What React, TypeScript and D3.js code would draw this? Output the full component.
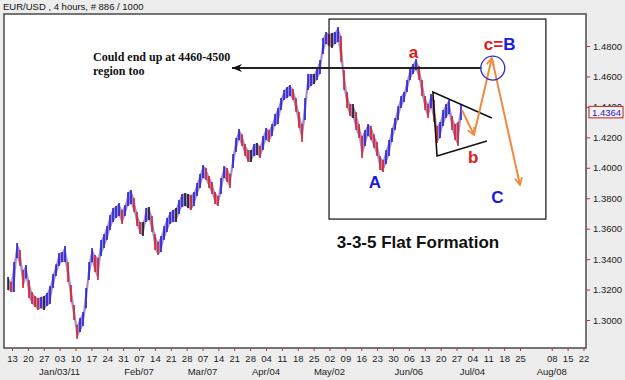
import React, { useEffect, useRef } from "react";
import * as d3 from "d3";

// EUR/USD 4h, sampled roughly once a day (high / low)
const barHigh = [
  1.3282, 1.3249, 1.3381, 1.3506, 1.346, 1.3328, 1.3361, 1.3262, 1.3184, 1.3157,
  1.3144, 1.3151, 1.3157, 1.3177, 1.3223, 1.3302, 1.3367, 1.344, 1.3447, 1.3486,
  1.3381, 1.323, 1.3098, 1.2967, 1.3013, 1.3052, 1.321, 1.3381, 1.3473, 1.3427,
  1.3407, 1.3525, 1.3565, 1.3617, 1.369, 1.3736, 1.3749, 1.3769, 1.3722, 1.3755,
  1.3841, 1.3854, 1.3801, 1.3709, 1.3643, 1.3643, 1.3736, 1.3742, 1.3683, 1.3565,
  1.3512, 1.3552, 1.3617, 1.367, 1.3709, 1.3722, 1.3736, 1.3788, 1.3828, 1.3834,
  1.3828, 1.3821, 1.3841, 1.39, 1.3959, 1.4018, 1.3998, 1.3946, 1.3906, 1.3841,
  1.3814, 1.3933, 1.4011, 1.3998, 1.3959, 1.409, 1.4195, 1.4254, 1.4221, 1.4156,
  1.4117, 1.4117, 1.4156, 1.4162, 1.4143, 1.4208, 1.4261, 1.4248, 1.4287, 1.4353,
  1.4392, 1.4458, 1.4511, 1.453, 1.4543, 1.4517, 1.4458, 1.4366, 1.4287, 1.4458,
  1.4616, 1.4616, 1.4616, 1.4655, 1.4708, 1.4852, 1.4892, 1.4879, 1.4885, 1.4892,
  1.4925, 1.4866, 1.4642, 1.4498, 1.4419, 1.4419, 1.4366, 1.4287, 1.4208, 1.4248,
  1.4287, 1.4274, 1.4221, 1.4169, 1.4077, 1.4051, 1.4117, 1.4182, 1.4261, 1.4327,
  1.4405, 1.4471, 1.4498, 1.4576, 1.4655, 1.4681, 1.4714, 1.4668, 1.4576, 1.4471,
  1.4419, 1.4484, 1.4445, 1.4274, 1.43, 1.4379, 1.4419, 1.4445, 1.434, 1.4287,
  1.43, 1.4419,
];
const barLow = [
  1.3197, 1.3184, 1.3184, 1.3407, 1.3354, 1.321, 1.3275, 1.3144, 1.3105, 1.3085,
  1.3065, 1.3078, 1.3065, 1.3092, 1.3105, 1.321, 1.3289, 1.3354, 1.3381, 1.3381,
  1.3249, 1.3118, 1.3, 1.2875, 1.2921, 1.296, 1.3078, 1.3262, 1.3381, 1.3315,
  1.3262, 1.342, 1.3473, 1.3525, 1.3591, 1.3644, 1.367, 1.3683, 1.363, 1.3683,
  1.3749, 1.3762, 1.3709, 1.3617, 1.3565, 1.3552, 1.3644, 1.3657, 1.3578, 1.346,
  1.3427, 1.3447, 1.3525, 1.3578, 1.363, 1.3644, 1.3644, 1.3696, 1.3742, 1.3749,
  1.3736, 1.3722, 1.3749, 1.3814, 1.3867, 1.3933, 1.3919, 1.3867, 1.3828, 1.3762,
  1.3749, 1.3828, 1.3933, 1.3906, 1.3867, 1.3998, 1.4103, 1.4182, 1.4143, 1.4077,
  1.4038, 1.4038, 1.4077, 1.4084, 1.4064, 1.4117, 1.4182, 1.4169, 1.4208, 1.4274,
  1.4287, 1.4379, 1.4445, 1.4458, 1.4471, 1.4445, 1.4366, 1.4261, 1.4169, 1.4314,
  1.4511, 1.4537, 1.455, 1.4576, 1.4616, 1.4747, 1.4813, 1.48, 1.4787, 1.4813,
  1.4826, 1.4695, 1.4511, 1.4392, 1.434, 1.4327, 1.4248, 1.4195, 1.4064, 1.4143,
  1.4208, 1.4182, 1.413, 1.4077, 1.3985, 1.3972, 1.4025, 1.4077, 1.4169, 1.4248,
  1.4314, 1.4392, 1.4432, 1.4498, 1.4576, 1.4616, 1.4642, 1.4576, 1.4471, 1.4379,
  1.4327, 1.4392, 1.43, 1.4162, 1.4195, 1.4274, 1.4327, 1.4353, 1.4248, 1.4182,
  1.4143, 1.4314,
];
const firstBarTime = new Date(2010, 11, 11, 6);
const lastBarTime = new Date(2011, 5, 29, 0);
const lastPrice = 1.4364;

const priceTicks = [1.3, 1.32, 1.34, 1.36, 1.38, 1.4, 1.42, 1.44, 1.46, 1.48];
const monthDates = [
  new Date(2011, 0, 3), new Date(2011, 1, 7), new Date(2011, 2, 7), new Date(2011, 3, 4),
  new Date(2011, 4, 2), new Date(2011, 5, 6), new Date(2011, 6, 4), new Date(2011, 7, 8),
];
const monthLabels = ["Jan/03/11", "Feb/07", "Mar/07", "Apr/04", "May/02", "Jun/06", "Jul/04", "Aug/08"];

// annotation anchors (time, price)
const targetLevel = 1.4655;
const levelArrow: [Date, Date] = [new Date(2011, 2, 20), new Date(2011, 6, 8)];
const boxCorners: [Date, number][] = [[new Date(2011, 4, 1, 19), 1.4977], [new Date(2011, 7, 5, 10), 1.3663]];
const triangleUpper: [Date, number][] = [[new Date(2011, 5, 16, 14), 1.4498], [new Date(2011, 6, 12, 14), 1.4327]];
const triangleLower: [Date, number][] = [[new Date(2011, 5, 18, 10), 1.4077], [new Date(2011, 6, 10, 10), 1.4176]];
const projection: [Date, number][] = [
  [new Date(2011, 5, 29, 10), 1.4379],
  [new Date(2011, 6, 4, 17), 1.4215],
  [new Date(2011, 6, 12, 14), 1.4721],
  [new Date(2011, 6, 25), 1.3887],
];
const circleAt: [Date, number] = [new Date(2011, 6, 13), 1.4655];

const RED = "#e01818";
const BLUE = "#1a1ae0";
const ORANGE = "#f08a40";

const App: React.FC = () => {
  const svgRef = useRef<SVGSVGElement | null>(null);

  useEffect(() => {
    if (!svgRef.current) return;
    const svg = d3.select(svgRef.current);
    svg.selectAll("*").remove();

    const frame = { left: 4, top: 14, right: 586, bottom: 348 };
    const font = "'Liberation Sans', Arial, sans-serif";

    const x = d3.scaleTime().domain([new Date(2010, 11, 13), new Date(2011, 6, 25)]).range([12, 520]);
    const y = d3.scaleLinear().domain([1.3, 1.48]).range([320, 46]);

    const defs = svg.append("defs");
    defs.append("clipPath").attr("id", "plot-clip")
      .append("rect")
      .attr("x", frame.left).attr("y", frame.top)
      .attr("width", frame.right - frame.left).attr("height", frame.bottom - frame.top);

    defs.append("marker")
      .attr("id", "arrow-orange")
      .attr("viewBox", "0 0 10 10")
      .attr("refX", 9).attr("refY", 5)
      .attr("markerWidth", 9).attr("markerHeight", 9)
      .attr("markerUnits", "userSpaceOnUse")
      .attr("orient", "auto")
      .append("path")
      .attr("d", "M1,1 L9,5 L1,9")
      .attr("fill", "none")
      .attr("stroke", ORANGE)
      .attr("stroke-width", 2);

    defs.append("marker")
      .attr("id", "arrow-black")
      .attr("viewBox", "0 0 10 8")
      .attr("refX", 10).attr("refY", 4)
      .attr("markerWidth", 10).attr("markerHeight", 8)
      .attr("markerUnits", "userSpaceOnUse")
      .attr("orient", "auto-start-reverse")
      .append("path")
      .attr("d", "M0,0 L10,4 L0,8 L3,4 Z")
      .attr("fill", "#111");

    // background + plot frame
    svg.append("rect").attr("width", 625).attr("height", 380).attr("fill", "#ededed");
    svg.append("rect")
      .attr("x", frame.left).attr("y", frame.top)
      .attr("width", frame.right - frame.left).attr("height", frame.bottom - frame.top)
      .attr("fill", "#fff")
      .attr("stroke", "#4a4a4a")
      .attr("stroke-width", 1.5);

    svg.append("text")
      .attr("x", 3).attr("y", 10)
      .style("font-family", font).style("font-size", "9.5px")
      .attr("fill", "#111")
      .text("EUR/USD , 4 hours, # 886 / 1000");

    // price bars: a thin high-low band underneath, coloured bars on top
    const n = barHigh.length;
    const t0 = firstBarTime.getTime();
    const dt = (lastBarTime.getTime() - t0) / (n - 1);
    const barX = (i: number) => x(new Date(t0 + i * dt));
    const mids = barHigh.map((h, i) => (h + barLow[i]) / 2);
    const bars = svg.append("g").attr("clip-path", "url(#plot-clip)");

    const band = d3.area<number>()
      .x((_, i) => barX(i))
      .y0((_, i) => y(barLow[i]))
      .y1((h) => y(h));
    bars.append("path")
      .datum(barHigh)
      .attr("d", band)
      .attr("fill", "#5a2a9a")
      .attr("fill-opacity", 0.55);

    barHigh.forEach((h, i) => {
      const bx = barX(i);
      const diff = i === 0 ? 0 : mids[i] - mids[i - 1];
      const color = diff > 0.001 ? BLUE : diff < -0.001 ? RED : "#111";
      bars.append("line")
        .attr("x1", bx).attr("x2", bx)
        .attr("y1", y(h)).attr("y2", y(barLow[i]))
        .attr("stroke", color)
        .attr("stroke-width", 1.5);
    });

    // y axis
    const yAxis = svg.append("g")
      .attr("transform", `translate(${frame.right},0)`)
      .call(d3.axisRight(y).tickValues(priceTicks).tickFormat(d3.format(".4f")).tickSize(4).tickPadding(3));
    yAxis.select(".domain").remove();
    yAxis.selectAll("line").attr("stroke", "#c03030");
    yAxis.selectAll("text").style("font-family", font).style("font-size", "9.5px").attr("fill", "#222");

    // current price box (partly covers the 1.4400 label, as in the terminal)
    const py = y(lastPrice);
    svg.append("rect")
      .attr("x", 589).attr("y", py - 6)
      .attr("width", 34).attr("height", 11.5)
      .attr("fill", "#f4f4f4")
      .attr("stroke", "#c02020");
    svg.append("text")
      .attr("x", 592).attr("y", py)
      .attr("dy", "0.35em")
      .style("font-family", font).style("font-size", "9.5px")
      .attr("fill", "#2020d0")
      .text(lastPrice.toFixed(4));

    // x axis (weekly ticks)
    const weekTicks = d3.timeMonday
      .range(new Date(2010, 11, 13), new Date(2011, 7, 23))
      .filter((d) => !(d.getMonth() === 7 && d.getDate() === 1));
    const xAxis = svg.append("g")
      .attr("transform", `translate(0,${frame.bottom})`)
      .call(d3.axisBottom(x).tickValues(weekTicks).tickFormat(d3.timeFormat("%d") as any).tickSize(3).tickPadding(4));
    xAxis.select(".domain").remove();
    xAxis.selectAll("line").attr("stroke", "#c03030");
    xAxis.selectAll("text").style("font-family", font).style("font-size", "9.5px").attr("fill", "#222");

    svg.append("g").selectAll("text")
      .data(monthDates)
      .enter()
      .append("text")
      .attr("x", (d) => x(d))
      .attr("y", 375)
      .attr("text-anchor", "middle")
      .style("font-family", font).style("font-size", "9.5px")
      .attr("fill", "#222")
      .text((_, i) => monthLabels[i]);

    // annotations
    const ann = svg.append("g");
    ann.append("rect")
      .attr("x", x(boxCorners[0][0])).attr("y", y(boxCorners[0][1]))
      .attr("width", x(boxCorners[1][0]) - x(boxCorners[0][0]))
      .attr("height", y(boxCorners[1][1]) - y(boxCorners[0][1]))
      .attr("fill", "none")
      .attr("stroke", "#111")
      .attr("stroke-width", 1.2);

    ann.append("line")
      .attr("x1", x(levelArrow[0])).attr("x2", x(levelArrow[1]))
      .attr("y1", y(targetLevel)).attr("y2", y(targetLevel))
      .attr("stroke", "#222")
      .attr("stroke-width", 2)
      .attr("marker-start", "url(#arrow-black)");

    const tri = [triangleUpper[1], triangleUpper[0], triangleLower[0], triangleLower[1]];
    ann.append("polyline")
      .attr("points", tri.map(([d, p]) => `${x(d)},${y(p)}`).join(" "))
      .attr("fill", "none")
      .attr("stroke", "#111")
      .attr("stroke-width", 1.6);

    for (let i = 0; i < projection.length - 1; i++) {
      ann.append("line")
        .attr("x1", x(projection[i][0])).attr("y1", y(projection[i][1]))
        .attr("x2", x(projection[i + 1][0])).attr("y2", y(projection[i + 1][1]))
        .attr("stroke", ORANGE)
        .attr("stroke-width", 2)
        .attr("marker-end", "url(#arrow-orange)");
    }

    ann.append("circle")
      .attr("cx", x(circleAt[0])).attr("cy", y(circleAt[1]))
      .attr("r", 12)
      .attr("fill", "none")
      .attr("stroke", "#3030c8")
      .attr("stroke-width", 1.3);

    const waveLabel = (d: Date, p: number, txt: string, color: string) =>
      ann.append("text")
        .attr("x", x(d)).attr("y", y(p))
        .attr("text-anchor", "middle")
        .style("font-family", font).style("font-size", "17px").style("font-weight", "bold")
        .attr("fill", color)
        .text(txt);
    waveLabel(new Date(2011, 5, 8), 1.4724, "a", RED);
    waveLabel(new Date(2011, 4, 22), 1.3867, "A", BLUE);
    waveLabel(new Date(2011, 6, 4, 8), 1.4031, "b", RED);
    waveLabel(new Date(2011, 6, 15), 1.3768, "C", BLUE);
    const cb = waveLabel(new Date(2011, 6, 16), 1.4774, "", RED);
    cb.append("tspan").text("c=");
    cb.append("tspan").attr("fill", BLUE).text("B");

    const note = ann.append("text")
      .style("font-family", "'Liberation Serif', 'Times New Roman', serif")
      .style("font-size", "12px").style("font-weight", "bold")
      .attr("fill", "#111");
    note.append("tspan").attr("x", 93).attr("y", 60.5).text("Could end up at 4460-4500");
    note.append("tspan").attr("x", 93).attr("y", 74.5).text("region too");

    ann.append("text")
      .attr("x", 418).attr("y", 248)
      .attr("text-anchor", "middle")
      .style("font-family", font).style("font-size", "17px").style("font-weight", "bold")
      .attr("fill", "#111")
      .text("3-3-5 Flat Formation");
  }, []);

  return (
    <svg
      ref={svgRef}
      width={625}
      height={380}
      style={{ position: "absolute", left: 0, top: 0, display: "block" }}
    />
  );
};

export default App;
